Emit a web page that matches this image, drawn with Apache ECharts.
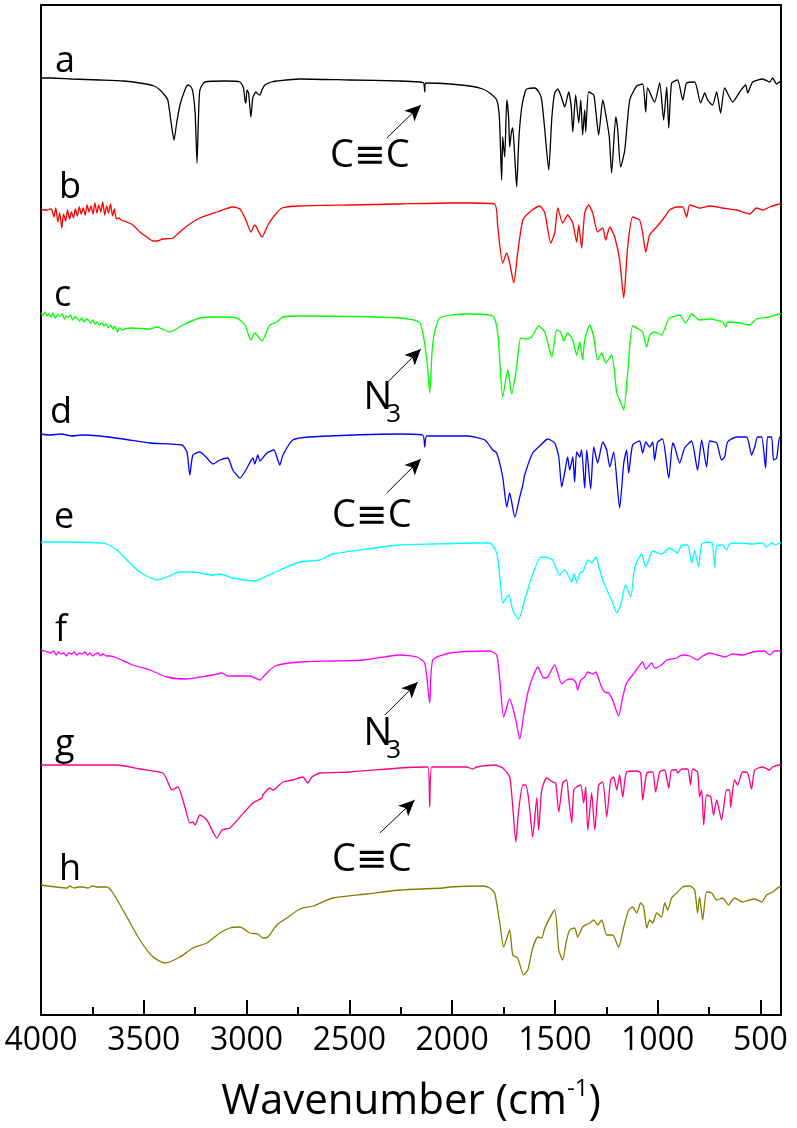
<!DOCTYPE html>
<html>
<head>
<meta charset="utf-8">
<script src="https://cdn.jsdelivr.net/npm/echarts@6/dist/echarts.min.js"></script>
<style>
  html, body { margin: 0; padding: 0; background: #fff; }
  #ftirChart { width: 797px; height: 1128px; }
</style>
</head>
<body>
<div id="ftirChart"></div>
<script>
// FTIR spectra a-h, stacked. each trace: [wavenumber, relative transmittance (a.u.)]
const labels = ['a', 'b', 'c', 'd', 'e', 'f', 'g', 'h'];
const colors = ['#000000', '#ff0000', '#00ff00', '#0000ff', '#00ffff', '#ff00ff', '#ff0080', '#808000'];
const offsets = [937, 805, 702, 581, 473, 365, 250, 130];

const traceA = [[4000,0],[3950,0],[3850,-1],[3713,-2],[3600,-3],[3519,-5],[3450,-8],[3421,-12],[3395,-18],[3383,-22],[3370,-40],[3353,-62],[3340,-45],[3324,-27],[3300,-12],[3285,-7],[3270,-9],[3261,-14],[3250,-35],[3241,-85],[3234,-40],[3227,-12],[3203,-4],[3100,-3],[3032,-4],[3015,-10],[3008,-22],[3003,-25],[2998,-12],[2990,-15],[2979,-39],[2970,-20],[2964,-17],[2955,-14],[2945,-16],[2935,-17],[2925,-12],[2911,-7],[2880,-4],[2853,-3],[2741,-1],[2500,-2],[2254,-3],[2157,-4],[2138,-5],[2133,-14],[2128,-5],[2011,-6],[1914,-8],[1851,-11],[1817,-15],[1783,-22],[1770,-40],[1759,-102],[1754,-59],[1749,-70],[1744,-79],[1734,-22],[1725,-40],[1720,-69],[1712,-55],[1705,-50],[1695,-80],[1686,-109],[1675,-60],[1661,-29],[1645,-14],[1637,-11],[1598,-10],[1575,-15],[1564,-22],[1550,-50],[1530,-92],[1515,-40],[1501,-15],[1486,-11],[1470,-18],[1452,-29],[1433,-14],[1420,-30],[1413,-54],[1399,-17],[1384,-45],[1374,-22],[1365,-57],[1355,-32],[1350,-54],[1336,-14],[1311,-17],[1300,-35],[1287,-57],[1267,-22],[1248,-42],[1235,-60],[1224,-95],[1204,-39],[1195,-50],[1180,-89],[1160,-72],[1136,-22],[1102,-8],[1073,-6],[1058,-34],[1049,-10],[1015,-24],[990,-5],[971,-42],[956,-9],[946,-50],[932,-5],[903,-2],[878,-22],[859,-5],[820,-4],[791,-25],[771,-15],[757,-22],[733,-27],[713,-14],[694,-35],[674,-10],[635,-24],[601,-14],[572,-7],[562,-15],[538,-4],[489,-1],[455,-4],[441,0],[421,-6],[407,-4],[400,-5]];

const traceB = [[4000,0],[3970,0],[3955,1],[3947,0],[3937,-7],[3928,2],[3918,-12],[3909,-3],[3899,-18],[3890,-4],[3880,-11],[3871,0],[3861,-9],[3852,-2],[3842,-8],[3833,1],[3823,-6],[3814,3],[3804,-4],[3795,2],[3785,-5],[3776,5],[3766,-2],[3757,4],[3747,-4],[3738,7],[3728,-3],[3719,5],[3709,-2],[3700,8],[3690,-5],[3681,4],[3671,-3],[3662,6],[3652,-6],[3643,1],[3633,-9],[3620,-8],[3610,-10],[3582,-12],[3553,-15],[3519,-22],[3485,-27],[3455,-31],[3436,-31],[3407,-29],[3358,-28],[3314,-20],[3276,-14],[3227,-8],[3144,-2],[3067,3],[3032,1],[3003,-10],[2979,-22],[2960,-15],[2925,-27],[2896,-15],[2862,-5],[2828,2],[2741,4],[2500,5],[2254,6],[2011,7],[1914,7],[1793,6],[1778,-17],[1754,-53],[1734,-43],[1720,-53],[1700,-73],[1681,-43],[1656,-10],[1622,-2],[1574,4],[1549,-3],[1520,-33],[1501,-23],[1486,2],[1462,-13],[1438,-5],[1413,-13],[1394,-32],[1384,-15],[1370,-38],[1355,-3],[1336,5],[1316,-3],[1292,-22],[1267,-18],[1253,-30],[1233,-17],[1209,-27],[1185,-50],[1165,-88],[1146,-37],[1122,-7],[1088,-10],[1073,-23],[1058,-42],[1039,-25],[1005,-17],[966,-7],[942,0],[908,3],[878,3],[859,-7],[844,5],[796,2],[747,4],[684,2],[616,0],[553,-4],[519,2],[489,0],[455,3],[407,6],[400,6]];

const traceC = [[4000,0],[3990,-2],[3982,1],[3971,-3],[3963,-1],[3950,-4],[3942,0],[3931,-5],[3918,-2],[3909,-3],[3897,-1],[3886,-6],[3878,-3],[3866,-4],[3855,-2],[3846,-7],[3835,-4],[3826,-5],[3812,-8],[3803,-5],[3790,-9],[3779,-6],[3770,-7],[3758,-10],[3748,-7],[3737,-11],[3726,-9],[3716,-12],[3704,-10],[3694,-13],[3683,-11],[3672,-15],[3662,-12],[3650,-16],[3640,-13],[3628,-19],[3618,-15],[3606,-17],[3595,-16],[3562,-15],[3470,-16],[3436,-14],[3373,-19],[3310,-12],[3227,-5],[3144,-4],[3047,-5],[3008,-12],[2979,-27],[2960,-20],[2925,-28],[2887,-12],[2853,-9],[2823,-4],[2741,-3],[2254,-5],[2157,-10],[2123,-47],[2109,-80],[2094,-30],[2060,-5],[1929,-1],[1802,-3],[1778,-20],[1754,-84],[1729,-57],[1710,-81],[1686,-54],[1666,-25],[1637,-26],[1613,-24],[1579,-13],[1549,-19],[1515,-44],[1491,-17],[1472,-19],[1457,-28],[1438,-20],[1413,-27],[1394,-42],[1379,-29],[1365,-47],[1355,-27],[1331,-12],[1311,-24],[1292,-47],[1272,-40],[1253,-50],[1224,-42],[1199,-80],[1185,-87],[1165,-97],[1146,-60],[1122,-13],[1092,-16],[1073,-19],[1053,-34],[1039,-22],[1015,-19],[981,-22],[956,-10],[942,-5],[893,-2],[864,-10],[835,-1],[796,-7],[747,-6],[684,-9],[669,-14],[660,-9],[601,-10],[553,-12],[519,-6],[455,-4],[407,-1],[400,-1]];

const traceD = [[4000,0],[3960,-1],[3900,0],[3850,-2],[3800,-1],[3713,-2],[3600,-5],[3470,-9],[3314,-11],[3290,-18],[3276,-41],[3261,-21],[3227,-18],[3193,-24],[3164,-30],[3130,-26],[3091,-24],[3067,-36],[3032,-44],[2998,-34],[2969,-24],[2960,-30],[2945,-21],[2935,-27],[2901,-19],[2867,-16],[2848,-26],[2838,-31],[2823,-21],[2775,-6],[2692,-3],[2254,0],[2143,-1],[2133,-13],[2123,-2],[1929,-2],[1841,-6],[1802,-16],[1783,-19],[1754,-43],[1734,-73],[1720,-59],[1695,-83],[1671,-63],[1656,-51],[1647,-41],[1608,-19],[1564,-10],[1535,-5],[1501,-9],[1481,-23],[1467,-53],[1452,-38],[1438,-23],[1428,-36],[1413,-23],[1404,-48],[1394,-18],[1379,-23],[1370,-16],[1355,-54],[1345,-16],[1326,-55],[1311,-13],[1292,-29],[1267,-8],[1248,-16],[1233,-33],[1214,-18],[1185,-74],[1165,-29],[1151,-16],[1141,-39],[1122,-11],[1088,-7],[1073,-19],[1058,-8],[1039,-13],[1024,-8],[1015,-26],[1000,-8],[976,-5],[946,-44],[927,-9],[917,-13],[893,-29],[869,-14],[835,-7],[806,-36],[786,-6],[762,-33],[747,-7],[713,-9],[689,-26],[674,-23],[660,-8],[616,-3],[567,-3],[543,-21],[528,-13],[514,-3],[494,-3],[475,-34],[465,-3],[446,-3],[436,-26],[421,-24],[407,-3],[400,-3]];

const traceE = [[4000,0],[3900,0],[3713,-1],[3679,-2],[3630,-8],[3582,-18],[3519,-30],[3436,-38],[3387,-35],[3324,-30],[3261,-30],[3164,-33],[3130,-32],[3067,-36],[2960,-39],[2901,-34],[2838,-28],[2741,-20],[2643,-18],[2580,-12],[2415,-7],[2254,-3],[2094,-2],[1880,-1],[1817,-1],[1783,-11],[1763,-45],[1754,-61],[1724,-53],[1705,-68],[1676,-77],[1647,-58],[1613,-35],[1574,-16],[1545,-15],[1511,-18],[1477,-33],[1452,-28],[1418,-40],[1408,-32],[1394,-40],[1374,-30],[1365,-30],[1340,-18],[1321,-21],[1301,-15],[1282,-28],[1258,-43],[1224,-58],[1199,-71],[1180,-63],[1156,-43],[1131,-55],[1112,-26],[1078,-12],[1058,-25],[1024,-9],[981,-12],[942,-6],[903,-11],[883,-3],[854,-3],[835,-21],[820,-9],[801,-25],[786,-2],[752,0],[733,-2],[723,-25],[713,-4],[684,-3],[665,-8],[650,-2],[601,-1],[538,-2],[489,-1],[470,-5],[446,-1],[426,-3],[407,-1],[400,-1]];

const traceF = [[4000,0],[3982,-1],[3968,-2],[3951,-3],[3939,-1],[3926,-5],[3914,-2],[3903,-4],[3889,-3],[3877,-6],[3866,-3],[3852,-4],[3838,-2],[3826,-5],[3812,-3],[3800,-4],[3786,-2],[3774,-5],[3761,-3],[3749,-6],[3736,-4],[3722,-3],[3710,-6],[3698,-4],[3680,-6],[3660,-6],[3630,-8],[3553,-15],[3470,-20],[3387,-27],[3290,-29],[3227,-27],[3164,-25],[3120,-23],[3091,-26],[3032,-26],[2984,-26],[2935,-30],[2911,-25],[2862,-16],[2741,-12],[2580,-11],[2430,-10],[2254,-5],[2172,-7],[2133,-13],[2109,-53],[2094,-10],[2011,-3],[1817,-1],[1783,-5],[1768,-30],[1749,-67],[1720,-49],[1690,-70],[1671,-89],[1652,-65],[1632,-43],[1613,-30],[1583,-17],[1554,-28],[1535,-27],[1501,-15],[1467,-34],[1443,-30],[1418,-29],[1399,-32],[1389,-40],[1374,-30],[1355,-27],[1340,-22],[1316,-24],[1301,-22],[1277,-35],[1258,-42],[1238,-43],[1219,-50],[1190,-66],[1170,-47],[1151,-33],[1122,-25],[1097,-18],[1073,-12],[1058,-19],[1029,-13],[1015,-18],[981,-15],[956,-10],[908,-8],[883,-5],[844,-6],[806,-10],[781,-6],[747,-3],[708,-5],[674,-7],[635,-4],[587,-5],[538,-2],[480,-1],[455,-5],[431,-1],[407,-1],[400,-1]];

const traceG = [[4000,0],[3800,0],[3630,0],[3519,-4],[3407,-8],[3387,-15],[3363,-25],[3334,-22],[3300,-42],[3276,-58],[3261,-57],[3251,-60],[3227,-50],[3193,-55],[3144,-73],[3120,-65],[3081,-63],[3032,-52],[2969,-38],[2925,-33],[2921,-30],[2887,-23],[2872,-25],[2823,-17],[2775,-15],[2726,-12],[2702,-18],[2682,-12],[2643,-8],[2498,-7],[2254,-3],[2118,-2],[2109,-42],[2099,-2],[1929,-2],[1900,-4],[1880,-2],[1793,0],[1754,-3],[1720,-12],[1705,-42],[1690,-77],[1676,-45],[1656,-20],[1642,-20],[1627,-35],[1608,-72],[1588,-33],[1579,-65],[1564,-25],[1540,-13],[1511,-17],[1496,-18],[1481,-47],[1462,-18],[1443,-15],[1433,-33],[1418,-58],[1408,-25],[1394,-22],[1374,-20],[1360,-38],[1350,-22],[1340,-65],[1321,-28],[1306,-65],[1287,-20],[1267,-17],[1248,-52],[1229,-15],[1214,-12],[1199,-25],[1185,-10],[1170,-32],[1151,-7],[1102,-6],[1083,-8],[1073,-35],[1053,-8],[1024,-7],[1010,-27],[990,-7],[966,-5],[956,-13],[946,-23],[932,-5],[908,-5],[903,-8],[883,-4],[854,-4],[840,-20],[830,-4],[806,-7],[796,-32],[786,-25],[776,-60],[762,-30],[742,-32],[728,-50],[713,-35],[689,-55],[665,-25],[650,-25],[645,-42],[626,-15],[611,-20],[587,-7],[562,-8],[543,-24],[528,-5],[489,-2],[455,-5],[441,-2],[407,0],[400,0]];

const traceH = [[4000,0],[3874,-3],[3860,-1],[3840,-3],[3820,-2],[3796,-2],[3770,-3],[3750,-1],[3730,-2],[3699,-2],[3679,-2],[3650,-8],[3582,-32],[3519,-55],[3455,-72],[3397,-78],[3324,-72],[3261,-63],[3193,-58],[3130,-48],[3081,-43],[3032,-42],[2984,-48],[2945,-49],[2921,-53],[2896,-52],[2853,-40],[2804,-33],[2741,-24],[2677,-21],[2580,-13],[2415,-9],[2254,-5],[2045,-3],[2011,-2],[1851,-1],[1817,-3],[1793,-8],[1768,-38],[1749,-62],[1720,-45],[1705,-70],[1681,-73],[1652,-90],[1632,-85],[1608,-63],[1583,-52],[1564,-53],[1549,-43],[1501,-25],[1481,-65],[1462,-75],[1443,-55],[1428,-45],[1404,-43],[1389,-52],[1365,-42],[1331,-38],[1311,-35],[1292,-40],[1272,-35],[1248,-50],[1219,-50],[1190,-62],[1165,-42],[1141,-25],[1122,-22],[1102,-28],[1083,-18],[1068,-22],[1053,-43],[1039,-35],[1024,-38],[1005,-28],[981,-32],[966,-18],[951,-25],[932,-13],[908,-8],[878,-2],[844,-1],[820,-5],[806,-28],[796,-12],[781,-35],[762,-7],[737,-8],[713,-15],[684,-13],[655,-20],[626,-13],[587,-17],[553,-15],[528,-14],[494,-17],[470,-10],[441,-7],[407,-2],[400,-2]];

const traces = [traceA, traceB, traceC, traceD, traceE, traceF, traceG, traceH];

// tick axis runs on negated wavenumber so interval counts from -4000
const tickMin = -4000;
const tickMax = -400;
const tickStep = 500;

// letter label positions (wavenumber, height above each trace start)
const labelWn = [3932, 3912, 3937, 3956, 3937, 3932, 3932, 3912];
const labelRise = [16, 22, 17, 21, 24, 19, 20, 15];

// peak annotations: trace index, text, text position, arrow from -> to
const notes = [
  { idx: 0, text: 'C≡C', at: [2400, 859], from: [2318, 877], to: [2152, 910] },
  { idx: 2, text: 'N', sub: '3', at: [2361, 617], subAt: [2284, 600], from: [2318, 632], to: [2152, 666] },
  { idx: 3, text: 'C≡C', at: [2391, 499], from: [2318, 522], to: [2152, 556] },
  { idx: 5, text: 'N', sub: '3', at: [2361, 281], subAt: [2284, 264], from: [2327, 300], to: [2167, 333] },
  { idx: 6, text: 'C≡C', at: [2391, 155], from: [2352, 182], to: [2182, 215] }
];

const FONT = "'Open Sans', 'Noto Sans', 'DejaVu Sans', sans-serif";

const chart = echarts.init(document.getElementById('ftirChart'), null, { renderer: 'canvas' });

const series = traces.map((tr, i) => {
  const pts = [{ coord: [labelWn[i], offsets[i] + labelRise[i]], value: labels[i],
    label: { fontSize: 36 } }];
  const lines = [];
  notes.filter(n => n.idx === i).forEach(n => {
    pts.push({ coord: n.at, value: n.text, label: { fontSize: 38, align: 'center' } });
    if (n.sub) pts.push({ coord: n.subAt, value: n.sub, label: { fontSize: 26, align: 'center' } });
    lines.push([{ coord: n.from }, { coord: n.to }]);
  });
  return {
    name: labels[i],
    type: 'line',
    xAxisIndex: 0,
    data: tr.map(p => [p[0], offsets[i] + p[1]]),
    showSymbol: false,
    symbol: 'none',
    smooth: 0.2,
    silent: true,
    lineStyle: { color: colors[i], width: 1.3 },
    itemStyle: { color: colors[i] },
    markPoint: {
      silent: true,
      symbol: 'circle',
      symbolSize: 0,
      label: {
        show: true,
        position: 'inside',
        formatter: p => p.value,
        color: '#000',
        fontFamily: FONT,
        align: 'left',
        verticalAlign: 'middle'
      },
      data: pts
    },
    markLine: {
      silent: true,
      symbol: ['none', 'arrow'],
      symbolSize: [11, 16],
      label: { show: false },
      lineStyle: { color: '#000', width: 1, type: 'solid' },
      data: lines
    }
  };
});

const option = {
  animation: false,
  backgroundColor: '#fff',
  grid: { left: 41, right: 16, top: 5, bottom: 113, show: true, borderColor: '#000', borderWidth: 2 },
  xAxis: [
    {
      // data axis
      type: 'value', min: 400, max: 4000, inverse: true, show: false
    },
    {
      // drawn axis
      type: 'value', min: tickMin, max: tickMax, interval: tickStep, position: 'bottom',
      axisLine: { show: true, lineStyle: { color: '#000', width: 2 } },
      axisTick: { show: true, inside: true, length: 15, lineStyle: { color: '#000', width: 2 } },
      minorTick: { show: true, splitNumber: 2, length: 8, lineStyle: { color: '#000', width: 2 } },
      axisLabel: {
        fontSize: 32, color: '#000', fontFamily: FONT, margin: 10,
        showMinLabel: true, showMaxLabel: true,
        formatter: v => (v % tickStep === 0 ? String(-v) : '')
      },
      splitLine: { show: false },
      name: '{t|Wavenumber (cm}{s|-1}{t|)}',
      nameLocation: 'middle',
      nameGap: 62,
      nameTextStyle: {
        rich: {
          t: { fontSize: 42, fontFamily: FONT, color: '#000', lineHeight: 50 },
          s: { fontSize: 24, fontFamily: FONT, color: '#000', verticalAlign: 'top', lineHeight: 50 }
        }
      }
    }
  ],
  yAxis: { type: 'value', min: 0, max: 1010, show: false },
  series: series
};

chart.setOption(option);
</script>
</body>
</html>
